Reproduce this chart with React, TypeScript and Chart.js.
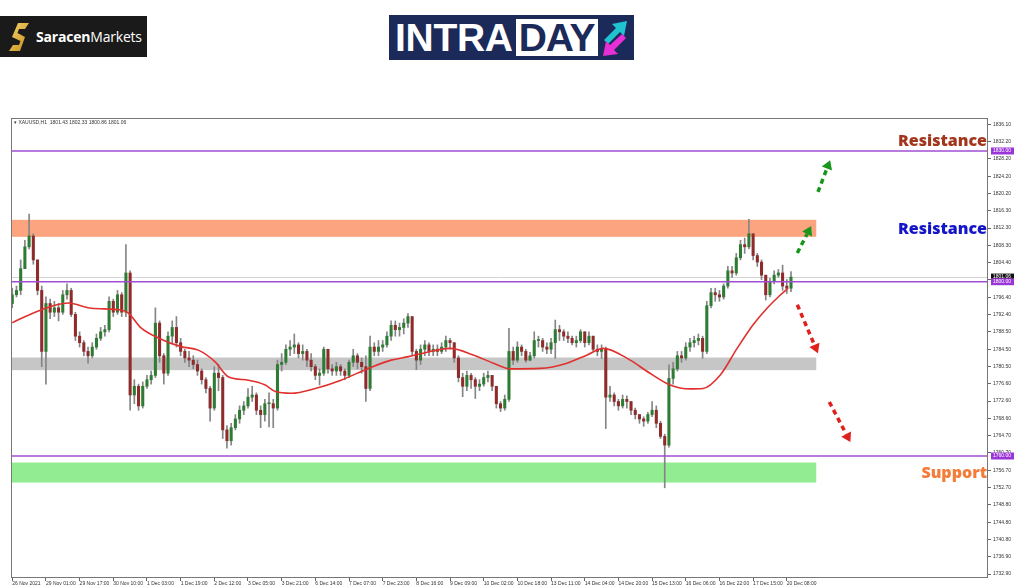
import React, { useEffect, useRef } from 'react';
import { Chart, registerables } from 'chart.js';

Chart.register(...registerables);

// ---- data ----
const X_TICK_LABELS = [
  '26 Nov 2021', '29 Nov 01:00', '29 Nov 17:00', '30 Nov 10:00', '1 Dec 03:00', '1 Dec 19:00',
  '2 Dec 12:00', '3 Dec 05:00', '3 Dec 21:00', '6 Dec 14:00', '7 Dec 07:00', '7 Dec 23:00',
  '8 Dec 16:00', '9 Dec 09:00', '10 Dec 02:00', '10 Dec 18:00', '13 Dec 11:00', '14 Dec 04:00',
  '14 Dec 20:00', '15 Dec 13:00', '16 Dec 06:00', '16 Dec 22:00', '17 Dec 15:00', '20 Dec 08:00',
];
const BARS_PER_TICK = 8;

const Y_TICKS = [
  1836.10, 1832.20, 1828.20, 1824.20, 1820.20, 1816.30, 1812.30, 1808.30, 1804.40, 1800.40,
  1796.40, 1792.40, 1788.50, 1784.50, 1780.50, 1776.60, 1772.60, 1768.60, 1764.70, 1760.70,
  1756.70, 1752.70, 1748.80, 1744.80, 1740.80, 1736.90, 1732.90,
];

const FIRST_OPEN = 1795.0;
const CLOSE = [
  1797, 1798, 1803, 1808, 1810.5, 1805, 1798, 1784, 1795, 1793,
  1794, 1793, 1797, 1798, 1792.5, 1787.5, 1786, 1784, 1783, 1785,
  1787, 1788.5, 1789, 1795.5, 1793, 1797, 1793, 1802, 1774, 1776,
  1771.5, 1776, 1777.5, 1778.5, 1790.5, 1783, 1779, 1787.5, 1789.5, 1786,
  1784, 1782.5, 1782, 1781, 1779.5, 1777.5, 1775.5, 1771, 1779, 1778,
  1766, 1763.5, 1766.5, 1768.5, 1770.5, 1771.5, 1773.5, 1774, 1770.5, 1769.5,
  1772, 1772, 1771, 1781, 1781.5, 1784.5, 1785, 1785.5, 1783.5, 1784,
  1782, 1780.5, 1778.5, 1779, 1784.5, 1780, 1779.5, 1780.5, 1779.5, 1778.5,
  1781.5, 1783, 1781.5, 1780.5, 1775.5, 1785, 1784, 1785, 1785.5, 1787.5,
  1790, 1789, 1789.5, 1790.5, 1792, 1784, 1782, 1784.5, 1785.5, 1784,
  1784.5, 1784, 1785, 1786.5, 1786, 1782.5, 1778, 1776, 1778.5, 1777.5,
  1776, 1776.5, 1778, 1778.5, 1776, 1772, 1771, 1773, 1784, 1782,
  1785, 1784, 1782, 1783, 1786.5, 1786.5, 1785, 1784.5, 1786, 1789,
  1788.5, 1787.5, 1787, 1786, 1786.5, 1788.5, 1786, 1787.5, 1784.5, 1784,
  1784.5, 1773.5, 1774, 1772.5, 1771.5, 1773, 1772.5, 1770.5, 1769.5, 1768.5,
  1768, 1769.5, 1770.5, 1767.5, 1764.5, 1762.5, 1777.8, 1780, 1783, 1782.5,
  1785, 1786, 1786.5, 1787, 1784, 1794.5, 1797.5, 1797, 1796.5, 1799,
  1802.5, 1802, 1805.5, 1808.5, 1808, 1811, 1806, 1804.5, 1801.5, 1797,
  1800, 1801.5, 1802, 1799, 1798.5, 1801.06,
];
const HIGH = [
  1798.5, 1799, 1805, 1809.5, 1815.5, 1811, 1804, 1799, 1796.5, 1796,
  1795.5, 1795, 1798, 1799.5, 1798.5, 1793, 1788.5, 1786.5, 1785, 1786,
  1788, 1789.5, 1790, 1796.5, 1796, 1798, 1797.5, 1808.5, 1802.5, 1777.5,
  1776.5, 1777, 1778.5, 1779.5, 1794, 1791, 1783.5, 1788.5, 1791, 1792,
  1787, 1784.5, 1784, 1783, 1782, 1780, 1778, 1776, 1780.5, 1781,
  1778.5, 1767, 1767.5, 1769.5, 1771.5, 1772.5, 1775.5, 1776, 1774.5, 1771.5,
  1773, 1774.5, 1773, 1782, 1783.5, 1785.5, 1786.5, 1788, 1786, 1785.5,
  1784.5, 1783.5, 1781, 1780, 1785, 1784.5, 1781, 1781.5, 1781, 1780,
  1782, 1784.5, 1783.5, 1782.5, 1783, 1787.5, 1786, 1786.5, 1786.5, 1788.5,
  1791, 1791, 1790.5, 1791.5, 1792.7, 1792, 1784.5, 1785.5, 1786.5, 1786,
  1785.5, 1785.5, 1786, 1787.5, 1787, 1786, 1783, 1779, 1779.5, 1779,
  1778, 1777.5, 1779, 1779.5, 1778.5, 1776, 1772.5, 1774, 1789.3, 1785,
  1786.2, 1785.5, 1784.5, 1783.8, 1788.5, 1787.5, 1787, 1786, 1787, 1791.2,
  1790, 1789, 1788.5, 1787.5, 1787.5, 1789, 1788.5, 1788.5, 1787.5, 1785.5,
  1785.5, 1785, 1776, 1774.5, 1773, 1774, 1773.8, 1772.5, 1771, 1769.5,
  1769, 1770, 1772.5, 1771.5, 1768, 1765, 1780.9, 1781.5, 1784, 1784,
  1786, 1787, 1787.5, 1788, 1787.5, 1795.5, 1798.5, 1798.5, 1798, 1799.5,
  1803.5, 1803.5, 1806.5, 1809.5, 1810, 1814.3, 1811, 1806.5, 1805, 1801.5,
  1800.8, 1802.5, 1802.8, 1803.8, 1800.5, 1802.3,
];
const LOW = [
  1794, 1796.5, 1797, 1803, 1807.5, 1804, 1797, 1780.5, 1776.5, 1791.5,
  1792, 1791, 1792.5, 1796, 1792, 1786.5, 1785, 1783, 1781.3, 1782.5,
  1784.5, 1786.5, 1787.5, 1788.5, 1792, 1792.5, 1792, 1792, 1770.5, 1772,
  1770.5, 1771, 1775.5, 1776.5, 1778, 1781.5, 1776.5, 1778.5, 1786, 1785,
  1783, 1781.5, 1780.5, 1780, 1778.5, 1776.5, 1774.5, 1768, 1770.5, 1775,
  1764, 1761.8, 1762.5, 1766, 1767.5, 1769.5, 1771, 1772.5, 1769.5, 1766.5,
  1768, 1766.7, 1766.5, 1770.5, 1779.5, 1781, 1783, 1783.5, 1782.5, 1782,
  1780.5, 1779.5, 1777.5, 1776.3, 1778.5, 1779, 1778.5, 1778.5, 1778.5, 1777.5,
  1778, 1780.5, 1780, 1779, 1772.5, 1775, 1783, 1783, 1784, 1785,
  1786.5, 1787.5, 1787.5, 1788, 1789.5, 1783, 1779.8, 1781, 1783, 1783,
  1783, 1783, 1783.5, 1784, 1784.5, 1781.5, 1777, 1773.6, 1775, 1775.5,
  1773.2, 1775, 1776, 1777, 1775, 1771, 1770.2, 1770.5, 1772.5, 1781,
  1781.5, 1783, 1781.5, 1781.8, 1782.5, 1785, 1784, 1783.5, 1783.5, 1782.4,
  1786.5, 1786.5, 1786, 1785.5, 1785, 1786, 1785, 1785.5, 1784, 1783,
  1782.4, 1766.3, 1772.5, 1771.5, 1770.5, 1771, 1771, 1769.5, 1768.5, 1767.5,
  1766.8, 1767.5, 1769, 1766.5, 1764, 1752.7, 1762, 1776.5, 1779.5, 1781.5,
  1782, 1784, 1785, 1785.5, 1782.4, 1783.5, 1794, 1795.5, 1795.5, 1796,
  1798.5, 1801, 1801.5, 1805, 1806.5, 1807.5, 1805, 1803.5, 1800.5, 1795.8,
  1796.5, 1799.5, 1801, 1798, 1797.3, 1797.7,
];

// moving average (bar index, value)
const MA_T = [
  0, 6.2, 13.3, 18.8, 25.9, 27.6, 30.6, 34.7, 40.1, 44.2, 48.2, 51.3, 56.1, 60.1, 62.5, 66.3,
  72, 78.1, 84.6, 90, 94.1, 97.6, 104, 109.5, 114.3, 118.3, 125.4, 131.8, 136.6, 140.4, 146.1,
  151.5, 156.3, 161, 164.1, 168.2, 172.2, 176, 179.3, 182.4, 184.3,
];
const MA_V = [
  1790.6, 1793.3, 1795.1, 1793.9, 1793.5, 1792.8, 1789.4, 1787.1, 1785.1, 1784.3, 1781.6, 1778.2,
  1777.4, 1776.3, 1774.8, 1774.4, 1775.5, 1777.4, 1780.1, 1782.0, 1782.8, 1783.6, 1784.7, 1783.2,
  1781.3, 1780.0, 1780.1, 1781.3, 1783.2, 1784.7, 1782.4, 1779.0, 1776.3, 1775.4, 1775.5, 1778.6,
  1784.7, 1790.1, 1793.9, 1796.9, 1798.5,
];

const LEVELS = [1830.0, 1800.0, 1760.0];
const LAST_PRICE = 1801.06;
const ZONE_TOP = [1814.2, 1782.6, 1758.5];
const ZONE_BOTTOM = [1810.3, 1779.7, 1753.9];
const ZONE_COLORS = ['#fca47f', '#c6c6c6', '#92ec92'];
const ZONE_END = 191;

const ARROW_FROM = [[191.4, 1820.6], [186.5, 1806.6], [186.5, 1794.7], [194.1, 1772.4]];
const ARROW_TO = [[194.3, 1827.9], [189.8, 1812.8], [191.4, 1783.6], [199.1, 1763.2]];
const ARROW_COLORS = ['#17961b', '#17961b', '#e0201c', '#e0201c'];

const NOTE_TEXT = ['Resistance', 'Resistance', 'Support'];
const NOTE_PRICE = [1832.1, 1812.1, 1756.1];
const NOTE_COLORS = ['#a2361c', '#1414c8', '#f47b38'];

const TITLE = '\u25BE XAUUSD,H1  1801.43 1802.33 1800.86 1801.06';
const X_MAX = 231.8;
const Y_MIN = 1732.0;
const Y_MAX = 1837.57;

const OPEN = CLOSE.map((c, i) => (i === 0 ? FIRST_OPEN : CLOSE[i - 1]));

const SMALL_FONT = '"Liberation Sans", Arial, sans-serif';

const overlayPlugin = {
  id: 'overlay',
  beforeDatasetsDraw(chart: any) {
    const { ctx, chartArea: a, scales } = chart;
    const x = scales.x, y = scales.y;
    ctx.save();
    const xEnd = x.getPixelForValue(ZONE_END);
    for (let k = 0; k < ZONE_TOP.length; k++) {
      const y1 = y.getPixelForValue(ZONE_TOP[k]);
      const y2 = y.getPixelForValue(ZONE_BOTTOM[k]);
      ctx.fillStyle = ZONE_COLORS[k];
      ctx.fillRect(a.left, y1, xEnd - a.left, y2 - y1);
    }
    const yl = Math.round(y.getPixelForValue(LAST_PRICE)) + 0.5;
    ctx.strokeStyle = '#d4d4d4';
    ctx.lineWidth = 1;
    ctx.beginPath();
    ctx.moveTo(a.left, yl);
    ctx.lineTo(a.right, yl);
    ctx.stroke();
    ctx.restore();
  },
  afterDatasetsDraw(chart: any) {
    const { ctx, chartArea: a, scales } = chart;
    const x = scales.x, y = scales.y;
    ctx.save();
    ctx.strokeStyle = '#a04fd2';
    ctx.lineWidth = 1.6;
    for (const v of LEVELS) {
      const py = y.getPixelForValue(v);
      ctx.beginPath();
      ctx.moveTo(a.left, py);
      ctx.lineTo(a.right, py);
      ctx.stroke();
    }
    for (let k = 0; k < ARROW_FROM.length; k++) {
      const x1 = x.getPixelForValue(ARROW_FROM[k][0]);
      const y1 = y.getPixelForValue(ARROW_FROM[k][1]);
      const x2 = x.getPixelForValue(ARROW_TO[k][0]);
      const y2 = y.getPixelForValue(ARROW_TO[k][1]);
      const ang = Math.atan2(y2 - y1, x2 - x1);
      const head = 9;
      const bx = x2 - Math.cos(ang) * head;
      const by = y2 - Math.sin(ang) * head;
      ctx.strokeStyle = ARROW_COLORS[k];
      ctx.fillStyle = ARROW_COLORS[k];
      ctx.lineWidth = 3.5;
      ctx.setLineDash([5, 4]);
      ctx.beginPath();
      ctx.moveTo(x1, y1);
      ctx.lineTo(bx, by);
      ctx.stroke();
      ctx.setLineDash([]);
      ctx.beginPath();
      ctx.moveTo(x2, y2);
      ctx.lineTo(bx + Math.cos(ang + Math.PI / 2) * 5.5, by + Math.sin(ang + Math.PI / 2) * 5.5);
      ctx.lineTo(bx + Math.cos(ang - Math.PI / 2) * 5.5, by + Math.sin(ang - Math.PI / 2) * 5.5);
      ctx.closePath();
      ctx.fill();
    }
    ctx.font = '800 16px "Open Sans"';
    ctx.textAlign = 'right';
    ctx.textBaseline = 'middle';
    for (let k = 0; k < NOTE_TEXT.length; k++) {
      ctx.fillStyle = NOTE_COLORS[k];
      ctx.fillText(NOTE_TEXT[k], a.right - 1, y.getPixelForValue(NOTE_PRICE[k]));
    }
    ctx.font = '5px ' + SMALL_FONT;
    ctx.textAlign = 'left';
    ctx.textBaseline = 'middle';
    ctx.fillStyle = '#333';
    ctx.fillText(TITLE, a.left + 3, a.top + 5);
    ctx.strokeStyle = '#777';
    ctx.lineWidth = 1;
    ctx.strokeRect(a.left + 0.5, a.top + 0.5, a.right - a.left - 1, a.bottom - a.top - 1);
    ctx.restore();
  },
  afterDraw(chart: any) {
    const { ctx, chartArea: a, scales } = chart;
    const y = scales.y;
    ctx.save();
    ctx.font = '5px ' + SMALL_FONT;
    ctx.textAlign = 'left';
    ctx.textBaseline = 'middle';
    const boxes: [number, string, string][] = [
      [LAST_PRICE, '#111', LAST_PRICE.toFixed(2)],
      ...LEVELS.map((v) => [v, '#9a36d8', v.toFixed(2)] as [number, string, string]),
    ];
    for (const [v, bg, txt] of boxes) {
      const py = y.getPixelForValue(v);
      ctx.fillStyle = bg;
      ctx.fillRect(a.right + 3, py - 3.5, 23, 7);
      ctx.fillStyle = '#fff';
      ctx.fillText(txt, a.right + 5, py);
    }
    ctx.restore();
  },
};

function Logos() {
  return (
    <>
      <div
        style={{
          position: 'absolute', left: 0, top: 16, width: 147, height: 41, background: '#1a1a1a',
          display: 'flex', alignItems: 'center', boxSizing: 'border-box', paddingLeft: 8,
        }}
      >
        <svg width="22" height="30" viewBox="0 0 22 30" style={{ marginRight: 6 }}>
          <defs>
            <linearGradient id="sg" x1="0" y1="0" x2="1" y2="1">
              <stop offset="0" stopColor="#f7d46e" />
              <stop offset="1" stopColor="#c58c1c" />
            </linearGradient>
          </defs>
          <polygon points="10,1 21,1 17,7 11,7 9.5,11 17,15 12,29 1,29 5,23 11,23 12.5,19 4,15" fill="url(#sg)" />
        </svg>
        <span style={{ color: '#fff', fontFamily: '"Open Sans", sans-serif', fontSize: 14, letterSpacing: -0.2 }}>
          <span style={{ fontWeight: 700 }}>Saracen</span>
          <span style={{ fontWeight: 400 }}>Markets</span>
        </span>
      </div>
      <div
        style={{
          position: 'absolute', left: 389, top: 15, width: 245, height: 45, background: '#1c2a5a',
          display: 'flex', alignItems: 'center', boxSizing: 'border-box', paddingLeft: 6,
        }}
      >
        <span
          style={{
            color: '#fff', fontFamily: '"Liberation Sans", Arial, sans-serif', fontWeight: 700,
            fontSize: 39, lineHeight: '39px', letterSpacing: -0.3,
          }}
        >
          INTRA
        </span>
        <span
          style={{
            background: '#fff', color: '#1c2a5a', fontFamily: '"Liberation Sans", Arial, sans-serif',
            fontWeight: 700, fontSize: 39, lineHeight: '37px', letterSpacing: -1, padding: '0 4px 0 3px',
            marginLeft: 3,
          }}
        >
          DAY
        </span>
        <svg width="30" height="40" viewBox="0 0 30 40" style={{ marginLeft: 2 }}>
          <polygon points="4,22 16,10 12,6 27,3 24,18 20,14 8,26" fill="#1fc4d0" />
          <polygon points="26,20 14,32 18,36 3,38 6,23 10,27 22,16" fill="#e62fd4" />
        </svg>
      </div>
    </>
  );
}

export default function App() {
  const ref = useRef<HTMLCanvasElement | null>(null);
  useEffect(() => {
    if (!ref.current) return;
    const wickColors = CLOSE.map(() => '#858585');
    const bodyColors = CLOSE.map((c, i) => (c >= OPEN[i] ? '#2e7b33' : '#8e2b2b'));
    const chart = new Chart(ref.current, {
      type: 'bar',
      data: {
        datasets: [
          {
            type: 'bar',
            label: 'wick',
            data: CLOSE.map((c, i) => ({ x: i, y: [Math.min(LOW[i], OPEN[i], c), Math.max(HIGH[i], OPEN[i], c)] })) as any,
            backgroundColor: wickColors,
            barThickness: 1,
            grouped: false,
            order: 3,
          } as any,
          {
            type: 'bar',
            label: 'body',
            data: CLOSE.map((c, i) => ({ x: i, y: [OPEN[i], c] })) as any,
            backgroundColor: bodyColors,
            barThickness: 2.4,
            minBarLength: 1,
            grouped: false,
            order: 2,
          } as any,
          {
            type: 'line',
            label: 'MA',
            data: MA_T.map((t, i) => ({ x: t, y: MA_V[i] })) as any,
            borderColor: '#e0312f',
            borderWidth: 1.6,
            pointRadius: 0,
            tension: 0.4,
            cubicInterpolationMode: 'monotone',
            order: 1,
          } as any,
        ],
      },
      options: {
        animation: false,
        responsive: true,
        maintainAspectRatio: false,
        layout: { padding: { left: 11, top: 118, right: 0, bottom: 0 } },
        plugins: { legend: { display: false }, tooltip: { enabled: false }, title: { display: false } },
        scales: {
          x: {
            type: 'linear',
            min: -0.3,
            max: X_MAX,
            offset: false,
            grid: { display: true, drawOnChartArea: false, drawTicks: true, tickLength: 3, color: '#666', offset: false },
            border: { display: false },
            afterBuildTicks: (scale: any) => {
              scale.ticks = X_TICK_LABELS.map((_, k) => ({ value: k * BARS_PER_TICK }));
            },
            afterFit: (scale: any) => {
              scale.height = 9;
            },
            ticks: {
              autoSkip: false,
              maxRotation: 0,
              align: 'start',
              padding: 0,
              color: '#333',
              font: { family: SMALL_FONT, size: 5 },
              callback: (_v: any, i: number) => X_TICK_LABELS[i],
            },
          },
          y: {
            type: 'linear',
            position: 'right',
            min: Y_MIN,
            max: Y_MAX,
            grid: { display: true, drawOnChartArea: false, drawTicks: true, tickLength: 3, color: '#666' },
            border: { display: false },
            afterBuildTicks: (scale: any) => {
              scale.ticks = Y_TICKS.map((v) => ({ value: v }));
            },
            afterFit: (scale: any) => {
              scale.width = 36;
            },
            ticks: {
              autoSkip: false,
              padding: 2,
              color: '#333',
              font: { family: SMALL_FONT, size: 5 },
              callback: (v: any) => Number(v).toFixed(2),
            },
          },
        },
      } as any,
      plugins: [overlayPlugin],
    });
    return () => chart.destroy();
  }, []);

  return (
    <div style={{ position: 'absolute', left: 0, top: 0, width: 1024, height: 587, background: '#fff' }}>
      <canvas ref={ref} />
      <Logos />
    </div>
  );
}
